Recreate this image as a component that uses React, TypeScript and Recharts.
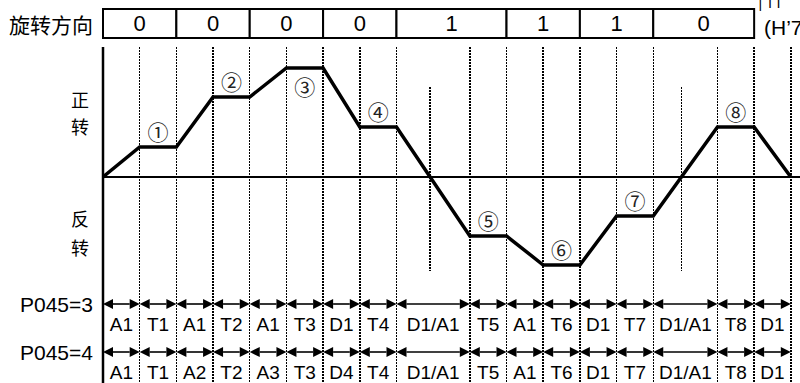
import React from "react";
import {
  LineChart,
  Line,
  XAxis,
  YAxis,
  ReferenceLine,
  ReferenceArea,
  ReferenceDot,
} from "recharts";

// break points of the speed profile (time units) and the speed at each one
const TIMES = [0, 1, 2, 3, 4, 5, 6, 7, 8, 10, 11, 12, 13, 14, 15, 16.75, 17.75, 18.75];
const SPEEDS = [0, 30, 30, 80, 80, 109, 109, 50, 50, -59, -59, -88, -88, -39, -39, 50, 50, 0];

// rotation direction cells at the top
const DIR_EDGES = [0, 2, 4, 6, 8, 11, 13, 15, 17.75];
const DIR_VALUES = ["0", "0", "0", "0", "1", "1", "1", "0"];

// step numbers, placed over the plateau that starts at TIMES[index]
const STEP_NAMES = ["①", "②", "③", "④", "⑤", "⑥", "⑦", "⑧"];
const STEP_INDEX = [1, 3, 5, 7, 9, 11, 13, 15];
const STEP_SIDE = ["top", "top", "bottom", "top", "top", "top", "top", "top"];

// segment labels under the two arrow rows
const ROW_NAMES = ["P045=3", "P045=4"];
const ROW_LEVELS = [-127, -175];
const ROW3_SEGMENTS = ["A1", "T1", "A1", "T2", "A1", "T3", "D1", "T4", "D1/A1", "T5", "A1", "T6", "D1", "T7", "D1/A1", "T8", "D1"];
const ROW4_SEGMENTS = ["A1", "T1", "A2", "T2", "A3", "T3", "D4", "T4", "D1/A1", "T5", "A1", "T6", "D1", "T7", "D1/A1", "T8", "D1"];

// labels on the left side
const SIDE_TICKS = [153, 78, 51, -41, -70, -127, -175];
const SIDE_LABELS = ["旋转方向", "正", "转", "反", "转", "P045=3", "P045=4"];

const Y_MIN = -206;
const Y_MAX = 177;
const X_MAX = 19;
const GRID_TOP = 130;
const BOX_TOP = 168;
const BOX_BOTTOM = 139;

const SANS = "'Liberation Sans', Arial, sans-serif";
const CJK = "'Noto Sans CJK SC', sans-serif";

const data = TIMES.map((t, i) => ({ t, v: SPEEDS[i] }));

// where the profile crosses zero while moving between plateaus
const zeroCrossings: number[] = [];
for (let i = 1; i < data.length - 1; i++) {
  const a = data[i];
  const b = data[i + 1];
  if (a.v * b.v < 0) zeroCrossings.push(a.t + ((b.t - a.t) * a.v) / (a.v - b.v));
}

function SideTick(props: any) {
  const { x, y, payload } = props;
  const label = SIDE_LABELS[SIDE_TICKS.indexOf(payload.value)] ?? "";
  const single = label.length === 1;
  const cjk = /[\u4e00-\u9fff]/.test(label);
  return (
    <text
      x={single ? x - 15 : x - 2}
      y={y}
      textAnchor={single ? "middle" : "end"}
      dominantBaseline="central"
      fontSize={single ? 18 : 21}
      fontFamily={cjk ? CJK : SANS}
      fill="#000"
    >
      {label}
    </text>
  );
}

function arrowShape(label: string) {
  return (p: any) => {
    const { x1, y1, x2 } = p;
    const h = 10;
    const w = 5;
    return (
      <g>
        <line x1={x1 + h} y1={y1} x2={x2 - h} y2={y1} stroke="#000" strokeWidth={1.6} />
        <polygon points={`${x1},${y1} ${x1 + h},${y1 - w} ${x1 + h},${y1 + w}`} fill="#000" />
        <polygon points={`${x2},${y1} ${x2 - h},${y1 - w} ${x2 - h},${y1 + w}`} fill="#000" />
        <text
          x={(x1 + x2) / 2}
          y={y1 + 20}
          textAnchor="middle"
          dominantBaseline="central"
          fontSize={19}
          fontFamily={SANS}
          fill="#000"
        >
          {label}
        </text>
      </g>
    );
  };
}

const dotted = {
  stroke: "#000",
  strokeWidth: 1.5,
  strokeDasharray: "1.5 1.5",
  shapeRendering: "crispEdges",
};

export default function App() {
  const rows = [ROW3_SEGMENTS, ROW4_SEGMENTS];
  return (
    <div style={{ position: "absolute", left: 0, top: 0, width: 800, height: 383, background: "#fff" }}>
      <LineChart width={800} height={383} data={data} margin={{ top: 0, right: 0, bottom: 0, left: 0 }}>
        <XAxis type="number" dataKey="t" domain={[0, X_MAX]} hide allowDataOverflow />
        <YAxis
          type="number"
          domain={[Y_MIN, Y_MAX]}
          ticks={SIDE_TICKS}
          width={103}
          axisLine={false}
          tickLine={false}
          tick={<SideTick />}
          interval={0}
          allowDataOverflow
        />

        {DIR_VALUES.map((d, i) => (
          <ReferenceArea
            key={"dir" + i}
            x1={DIR_EDGES[i]}
            x2={DIR_EDGES[i + 1]}
            y1={BOX_BOTTOM}
            y2={BOX_TOP}
            fill="#fff"
            fillOpacity={1}
            stroke="#000"
            strokeWidth={2}
            label={{ value: d, position: "center", fontSize: 22, fill: "#000", fontFamily: SANS }}
          />
        ))}

        {TIMES.slice(1).map((t) => (
          <ReferenceLine
            key={"grid" + t}
            segment={[{ x: t, y: GRID_TOP }, { x: t, y: Y_MIN }]}
            {...dotted}
          />
        ))}

        {zeroCrossings.map((t) => (
          <ReferenceLine
            key={"zc" + t}
            segment={[{ x: t, y: 90 }, { x: t, y: -94 }]}
            {...dotted}
          />
        ))}

        <ReferenceLine segment={[{ x: 0, y: GRID_TOP }, { x: 0, y: Y_MIN }]} stroke="#000" strokeWidth={2.5} />
        <ReferenceLine y={0} stroke="#000" strokeWidth={2} />

        {rows.map((segs, r) =>
          segs.map((s, i) => (
            <ReferenceLine
              key={ROW_NAMES[r] + i}
              segment={[
                { x: TIMES[i], y: ROW_LEVELS[r] },
                { x: TIMES[i + 1], y: ROW_LEVELS[r] },
              ]}
              shape={arrowShape(s)}
            />
          ))
        )}

        {STEP_NAMES.map((n, k) => {
          const i = STEP_INDEX[k];
          return (
            <ReferenceDot
              key={n}
              x={(TIMES[i] + TIMES[i + 1]) / 2}
              y={SPEEDS[i]}
              r={0}
              fill="none"
              stroke="none"
              label={{
                value: n,
                position: STEP_SIDE[k],
                offset: STEP_SIDE[k] === "top" ? 7 : 12,
                fontSize: 21,
                fill: "#222",
                fontFamily: "'DejaVu Serif', 'Noto Sans CJK JP', serif",
              }}
            />
          );
        })}

        <ReferenceDot
          x={18.02}
          y={149}
          r={0}
          fill="none"
          stroke="none"
          label={{ value: "(H’7", position: "right", offset: 0, fontSize: 21, fill: "#000", fontFamily: SANS }}
        />
        <ReferenceDot
          x={18.2}
          y={Y_MAX}
          r={0}
          fill="none"
          stroke="none"
          label={{ value: "| TT", position: "top", offset: -8, fontSize: 14, fill: "#000", fontFamily: SANS }}
        />

        <Line
          type="linear"
          dataKey="v"
          stroke="#000"
          strokeWidth={3.5}
          dot={false}
          activeDot={false}
          isAnimationActive={false}
        />
      </LineChart>
    </div>
  );
}
